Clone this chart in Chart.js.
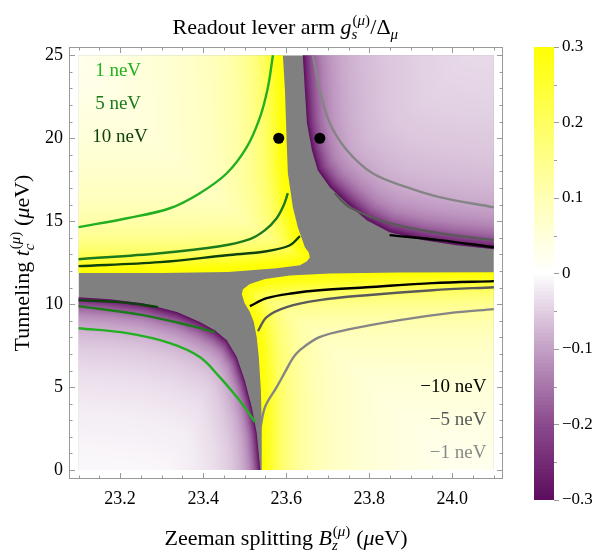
<!DOCTYPE html>
<html><head><meta charset="utf-8">
<script src="https://cdn.jsdelivr.net/npm/chart.js@4.4.1/dist/chart.umd.min.js"></script>
<style>
html,body{margin:0;padding:0;background:#fff;}
#wrap{position:relative;width:604px;height:554px;background:#fff;}
#main{position:absolute;left:0;top:0;}
#cbar{position:absolute;left:520px;top:0;}
</style></head><body>
<div id="wrap"><canvas id="main" width="604" height="554"></canvas><canvas id="cbar" width="84" height="554"></canvas></div>
<script>
// ---------- axes ----------
const xTickLabels = [23.2, 23.4, 23.6, 23.8, 24.0];
const yTickLabels = [0, 5, 10, 15, 20, 25];
const cbTickLabels = [-0.3, -0.2, -0.1, 0, 0.1, 0.2, 0.3];
const xRange = [23.1, 24.1];
const yRange = [0, 25];

// ---------- contour lines (Zeeman B, tunneling t_c) ----------
const c1TL = [[23.1,14.64],[23.217,15.18],[23.32,15.78],[23.392,16.69],[23.457,17.89],[23.505,19.46],[23.537,21.27],[23.556,23.07],[23.568,25.0]];
const c1BL = [[23.1,8.55],[23.217,8.25],[23.32,7.65],[23.392,6.81],[23.44,5.6],[23.481,4.4],[23.505,3.61],[23.525,2.89]];
const c5TL = [[23.1,12.71],[23.296,13.07],[23.44,13.49],[23.5125,13.92],[23.549,14.46],[23.577,15.18],[23.594,15.96],[23.604,16.69]];
const c5BL = [[23.1,9.88],[23.255,9.34],[23.375,8.67],[23.428,8.31]];
const c10TL = [[23.1,12.29],[23.296,12.53],[23.457,12.95],[23.553,13.19],[23.609,13.55],[23.633,14.1]];
const c10BL = [[23.1,10.24],[23.2,10.12],[23.291,9.82]];
const cm10TR = [[23.849,14.16],[23.969,13.86],[24.1,13.43]];
const cm10BR = [[23.5125,9.88],[23.553,10.36],[23.616,10.66],[23.68,10.84],[23.794,11.02],[23.952,11.27],[24.1,11.39]];
const cm5TR = [[23.717,16.69],[23.753,15.84],[23.849,14.88],[23.969,14.28],[24.1,13.86]];
const cm5BR = [[23.532,8.37],[23.553,9.22],[23.601,9.82],[23.68,10.24],[23.794,10.54],[23.952,10.84],[24.1,11.02]];
const cm1TR = [[23.664,25],[23.681,22.89],[23.705,20.9],[23.746,19.28],[23.808,17.89],[23.89,17.05],[23.969,16.45],[24.1,15.84]];
const cm1BR = [[23.537,2.41],[23.549,3.8],[23.577,5.0],[23.597,5.9],[23.616,6.75],[23.633,7.23],[23.68,8.01],[23.753,8.49],[23.873,9.04],[23.993,9.46],[24.1,9.7]];
const dots = [[23.582,20],[23.681,20]];

// contour labels: [text, x, y]
const labelsLeft = [["1 neV",23.14,24.04],["5 neV",23.14,22.05],["10 neV",23.133,20.06]];
const labelsRight = [["\u221210 neV",24.082,5.0],["\u22125 neV",24.082,3.01],["\u22121 neV",24.082,1.02]];

// ---------- lever-arm map: edges of the out-of-range (gray) zone ----------
const edgeTL = [[23.05,11.87],[23.1,11.87],[23.3,11.87],[23.46,11.93],[23.577,12.17],[23.633,12.35],[23.65,12.59],[23.657,12.83],[23.654,13.13],[23.645,13.43],[23.628,14.64],[23.616,15.84],[23.604,17.89],[23.601,19.88],[23.597,22.89],[23.592,25],[23.592,25.6]];
const edgeTR = [[23.64,25.6],[23.64,25],[23.645,22.89],[23.65,20.9],[23.662,19.28],[23.676,18.07],[23.705,17.05],[23.746,16.08],[23.794,15.06],[23.849,14.34],[23.928,13.86],[24.01,13.55],[24.101,13.31],[24.15,13.25]];
const edgeBL = [[23.05,10.45],[23.1,10.42],[23.176,10.3],[23.255,10.06],[23.337,9.52],[23.392,8.92],[23.428,8.43],[23.457,7.83],[23.481,6.81],[23.5,5.42],[23.517,3.8],[23.529,2.23],[23.537,0.18],[23.54,-0.6]];
const edgeBR = [[23.541,-0.6],[23.541,0.12],[23.541,2.83],[23.539,4.82],[23.534,6.81],[23.529,8.01],[23.522,8.92],[23.5125,9.52],[23.5,10.06],[23.493,10.6],[23.496,10.9],[23.5125,11.22],[23.549,11.52],[23.609,11.72],[23.705,11.84],[23.873,11.9],[24.101,11.93],[24.15,11.93]];
const profTL_d = [0,5,10,16,24,35,50,70,100,140,190,260];
const profTL_v = [0.3,0.29,0.26,0.22,0.18,0.145,0.115,0.09,0.068,0.048,0.03,0.018];
const profTR_d = [0,4,9,15,22,32,45,65,95,140,200,280];
const profTR_v = [0.3,0.25,0.2,0.165,0.135,0.11,0.09,0.074,0.06,0.048,0.038,0.03];
const profBL_d = [0,3,7,12,18,26,36,50,75,110,160,230];
const profBL_v = [0.3,0.25,0.2,0.16,0.125,0.097,0.076,0.056,0.036,0.02,0.009,0.004];
const profBR_d = [0,5,10,16,24,35,50,70,100,140,190,260];
const profBR_v = [0.3,0.28,0.25,0.21,0.17,0.135,0.105,0.08,0.058,0.04,0.025,0.015];

// colour map
const cmapV = [-0.3,-0.2,-0.1,0,0.1,0.2,0.3];
const cmapC = [[94,12,94],[140,75,142],[196,160,198],[255,255,255],[255,255,180],[255,255,95],[255,255,0]];
const outOfRange = '#808080';

const FAM = "Liberation Serif";
Chart.defaults.font.family = FAM;

function colorAt(v){
  if (v <= cmapV[0]) return cmapC[0];
  const n = cmapV.length;
  if (v >= cmapV[n-1]) return cmapC[n-1];
  for (let i=0;i<n-1;i++){
    if (v <= cmapV[i+1]){
      const t = (v-cmapV[i])/(cmapV[i+1]-cmapV[i]);
      const a = cmapC[i], b = cmapC[i+1];
      return [a[0]+(b[0]-a[0])*t, a[1]+(b[1]-a[1])*t, a[2]+(b[2]-a[2])*t];
    }
  }
}
function profile(d, D, V){
  if (d <= D[0]) return V[0];
  for (let i=0;i<D.length-1;i++){
    if (d <= D[i+1]) return V[i] + (V[i+1]-V[i])*(d-D[i])/(D[i+1]-D[i]);
  }
  return V[V.length-1];
}
const rgb = c => 'rgb('+Math.round(c[0])+','+Math.round(c[1])+','+Math.round(c[2])+')';

const regions = [
  {edge: edgeTL, corner: [[23.05,25.6]], sign: 1, D: profTL_d, V: profTL_v, kx: 1},
  {edge: edgeTR, corner: [[24.15,25.6]], sign: -1, D: profTR_d, V: profTR_v, kx: 1.15},
  {edge: edgeBL, corner: [[23.05,-0.6]], sign: -1, D: profBL_d, V: profBL_v, kx: 1.7},
  {edge: edgeBR, corner: [[24.15,-0.6]], sign: 1, D: profBR_d, V: profBR_v, kx: 1}
];

const heatPlugin = {
  id: 'heat',
  beforeDatasetsDraw(chart){
    const {ctx} = chart; const xs = chart.scales.x, ys = chart.scales.y;
    const x0 = xs.getPixelForValue(xRange[0]), x1 = xs.getPixelForValue(xRange[1]);
    const y0 = ys.getPixelForValue(yRange[1]), y1 = ys.getPixelForValue(yRange[0]);
    const ix = Math.floor(x0), iy = Math.floor(y0);
    const W = Math.ceil(x1) - ix, H = Math.ceil(y1) - iy;
    ctx.save();
    ctx.beginPath(); ctx.rect(x0, y0, x1-x0, y1-y0); ctx.clip();
    ctx.fillStyle = outOfRange; ctx.fillRect(x0, y0, x1-x0, y1-y0);
    for (const r of regions){
      const bp = r.edge.map(p => [xs.getPixelForValue(p[0]), ys.getPixelForValue(p[1])]);
      const off = document.createElement('canvas'); off.width = W; off.height = H;
      const octx = off.getContext('2d');
      const img = octx.createImageData(W, H); const dd = img.data;
      const kx = r.kx;
      for (let j=0;j<H;j++){
        const py = iy + j + 0.5;
        for (let i=0;i<W;i++){
          const px = ix + i + 0.5;
          let best = 1e12;
          for (let s=0;s<bp.length-1;s++){
            const ax=bp[s][0]*kx, ay=bp[s][1], bx=bp[s+1][0]*kx, by=bp[s+1][1];
            const qx=px*kx;
            const vx=bx-ax, vy=by-ay, wx=qx-ax, wy=py-ay;
            const l2=vx*vx+vy*vy; let t = l2>0 ? (wx*vx+wy*vy)/l2 : 0;
            if (t<0) t=0; else if (t>1) t=1;
            const dx=wx-t*vx, dy=wy-t*vy; const d2=dx*dx+dy*dy;
            if (d2<best) best=d2;
          }
          const v = r.sign*profile(Math.sqrt(best), r.D, r.V);
          const c = colorAt(v); const k=(j*W+i)*4;
          dd[k]=c[0]; dd[k+1]=c[1]; dd[k+2]=c[2]; dd[k+3]=255;
        }
      }
      octx.putImageData(img, 0, 0);
      ctx.save();
      ctx.beginPath();
      const poly = bp.concat(r.corner.map(p => [xs.getPixelForValue(p[0]), ys.getPixelForValue(p[1])]));
      poly.forEach((p,i) => i ? ctx.lineTo(p[0],p[1]) : ctx.moveTo(p[0],p[1]));
      ctx.closePath(); ctx.clip();
      ctx.drawImage(off, ix, iy);
      ctx.restore();
    }
    ctx.restore();
  }
};

function segW(ctx, segs, size){ let w=0; for (const s of segs) w += oneW(ctx, s, size); return w; }
function oneW(ctx, s, size){
  if (s.t !== undefined){ ctx.font = (s.it?'italic ':'') + size + 'px "' + FAM + '"'; return ctx.measureText(s.t).width; }
  const ss = size*0.68;
  return Math.max(s.sup?segW(ctx,s.sup,ss):0, s.sub?segW(ctx,s.sub,ss):0) + size*0.06;
}
function drawSegs(ctx, segs, x, y, size){
  for (const s of segs){
    if (s.t !== undefined){
      ctx.font = (s.it?'italic ':'') + size + 'px "' + FAM + '"';
      ctx.fillText(s.t, x, y); x += ctx.measureText(s.t).width;
    } else {
      const ss = size*0.68;
      if (s.sup) drawSegs(ctx, s.sup, x + size*0.04, y - size*0.42, ss);
      if (s.sub) drawSegs(ctx, s.sub, x, y + size*0.24, ss);
      x += oneW(ctx, s, size);
    }
  }
  return x;
}
function drawRich(ctx, segs, cx, y, size){
  ctx.textAlign='left'; ctx.textBaseline='alphabetic'; ctx.fillStyle='#000';
  const w = segW(ctx, segs, size); drawSegs(ctx, segs, cx - w/2, y, size);
}
const muSup = [{t:'('},{t:'\u03bc',it:1},{t:')'}];
const titleSegs = [{t:'Readout lever arm '},{t:'g',it:1},{sup:muSup, sub:[{t:'s',it:1}]},{t:'/\u0394'},{sub:[{t:'\u03bc',it:1}]}];
const xTitleSegs = [{t:'Zeeman splitting '},{t:'B',it:1},{sup:muSup, sub:[{t:'z',it:1}]},{t:' ('},{t:'\u03bc',it:1},{t:'eV)'}];
const yTitleSegs = [{t:'Tunneling '},{t:'t',it:1},{sup:muSup, sub:[{t:'c',it:1}]},{t:' ('},{t:'\u03bc',it:1},{t:'eV)'}];

const framePlugin = {
  id: 'frame',
  afterDatasetsDraw(chart){
    const {ctx} = chart; const xs = chart.scales.x, ys = chart.scales.y;
    ctx.save();
    ctx.font = '19px "' + FAM + '"'; ctx.textBaseline = 'middle';
    const lc = ['#22b022','#1c7a1c','#0d420d'];
    ctx.textAlign = 'left';
    labelsLeft.forEach((l,i) => { ctx.fillStyle = lc[i]; ctx.fillText(l[0], xs.getPixelForValue(l[1]), ys.getPixelForValue(l[2])); });
    const rc = ['#000000','#5a5a5a','#8a8a8a'];
    ctx.textAlign = 'right';
    labelsRight.forEach((l,i) => { ctx.fillStyle = rc[i]; ctx.fillText(l[0], xs.getPixelForValue(l[1]), ys.getPixelForValue(l[2])); });
    ctx.restore();
  },
  afterDraw(chart){
    const {ctx, chartArea:a} = chart; const xs = chart.scales.x, ys = chart.scales.y;
    ctx.save();
    ctx.strokeStyle = '#9a9a9a'; ctx.lineWidth = 1;
    ctx.strokeRect(Math.round(a.left)+0.5, Math.round(a.top)+0.5, Math.round(a.right-a.left)-1, Math.round(a.bottom-a.top)-1);
    ctx.beginPath();
    for (let k=0;k<=20;k++){
      const v = 23.1 + k*0.05; const px = Math.round(xs.getPixelForValue(v))+0.5;
      const major = xTickLabels.some(t => Math.abs(t-v)<1e-6); const L = major?6:3.5;
      ctx.moveTo(px, a.bottom); ctx.lineTo(px, a.bottom-L);
      ctx.moveTo(px, a.top); ctx.lineTo(px, a.top+L);
    }
    for (let k=0;k<=25;k++){
      const py = Math.round(ys.getPixelForValue(k))+0.5;
      const major = yTickLabels.includes(k); const L = major?6:3.5;
      ctx.moveTo(a.left, py); ctx.lineTo(a.left+L, py);
      ctx.moveTo(a.right, py); ctx.lineTo(a.right-L, py);
    }
    ctx.stroke();
    const cx = (a.left+a.right)/2;
    drawRich(ctx, titleSegs, cx, 34, 22);
    drawRich(ctx, xTitleSegs, cx, 545, 22);
    ctx.translate(29, (a.top+a.bottom)/2); ctx.rotate(-Math.PI/2);
    drawRich(ctx, yTitleSegs, 0, 0, 22);
    ctx.restore();
  }
};

const toXY = arr => arr.map(p => ({x:p[0], y:p[1]}));
function line(arr, color){
  return {type:'line', data: toXY(arr), borderColor: color, borderWidth: 2.4, pointRadius: 0, tension: 0.35, fill: false};
}
const G1='#22b022', G5='#1c7a1c', G10='#0d420d', K10='#000000', K5='#5a5a5a', K1='#858585';
const tickFont = {size:18, family:FAM};

new Chart(document.getElementById('main'), {
  type: 'scatter',
  data: { datasets: [
    line(c1TL,G1), line(c1BL,G1), line(c5TL,G5), line(c5BL,G5), line(c10TL,G10), line(c10BL,G10),
    line(cm1TR,K1), line(cm1BR,K1), line(cm5TR,K5), line(cm5BR,K5), line(cm10TR,K10), line(cm10BR,K10),
    {type:'scatter', data: toXY(dots), pointRadius: 5.5, pointBackgroundColor:'#000', pointBorderWidth:0, borderColor:'#000'}
  ]},
  options: {
    responsive: false, animation: false, devicePixelRatio: 1, events: [],
    layout: { padding: {left:0, right:101, top:47, bottom:0} },
    plugins: { legend:{display:false}, tooltip:{enabled:false}, title:{display:false} },
    scales: {
      x: { type:'linear', min:23.077, max:24.122,
        afterBuildTicks: s => { s.ticks = xTickLabels.map(v => ({value:v})); },
        afterFit: s => { s.height = 75; },
        grid:{display:false, drawTicks:false}, border:{display:false},
        ticks:{ font: tickFont, color:'#000', padding:9, maxRotation:0, autoSkip:false, callback: v => Number(v).toFixed(1) } },
      y: { type:'linear', min:-0.54, max:25.5,
        afterBuildTicks: s => { s.ticks = yTickLabels.map(v => ({value:v})); },
        afterFit: s => { s.width = 69; },
        grid:{display:false, drawTicks:false}, border:{display:false},
        ticks:{ font: tickFont, color:'#000', padding:6, autoSkip:false, callback: v => String(v) } }
    }
  },
  plugins: [heatPlugin, framePlugin]
});

// ---------- colour bar ----------
const cbSegs = [];
for (let k=0;k<120;k++){ const lo = -0.3 + k*0.005; cbSegs.push([lo, lo+0.0056]); }
const cbTickPlugin = {
  id:'cbticks',
  afterDraw(chart){
    const {ctx, chartArea:a} = chart; const ys = chart.scales.y;
    ctx.save(); ctx.strokeStyle='#9a9a9a'; ctx.lineWidth=1; ctx.beginPath();
    for (let k=0;k<=12;k++){
      const v = -0.3 + k*0.05; const py = Math.round(ys.getPixelForValue(v))+0.5;
      const L = (k%2===0)?5:3;
      ctx.moveTo(a.right, py); ctx.lineTo(a.right+L, py);
    }
    ctx.stroke(); ctx.restore();
  }
};
new Chart(document.getElementById('cbar'), {
  type:'bar',
  data:{ labels:[''], datasets: cbSegs.map(s => ({ data:[s], backgroundColor: rgb(colorAt(s[0]+0.0025)), borderWidth:0, barPercentage:1, categoryPercentage:1, grouped:false })) },
  options:{
    responsive:false, animation:false, devicePixelRatio:1, events:[],
    layout:{ padding:{left:14, right:0, top:47, bottom:54} },
    plugins:{ legend:{display:false}, tooltip:{enabled:false} },
    scales:{
      x:{ display:false },
      y:{ position:'right', min:-0.3, max:0.3,
        afterBuildTicks: s => { s.ticks = cbTickLabels.map(v => ({value:v})); },
        afterFit: s => { s.width = 50; },
        grid:{display:false, drawTicks:false}, border:{display:false},
        ticks:{ font:{size:17, family:FAM}, color:'#000', padding:8, autoSkip:false,
          callback: v => v === 0 ? '0' : (v < 0 ? '\u2212' + Math.abs(v).toFixed(1) : v.toFixed(1)) } }
    }
  },
  plugins:[cbTickPlugin]
});
</script>
</body></html>
